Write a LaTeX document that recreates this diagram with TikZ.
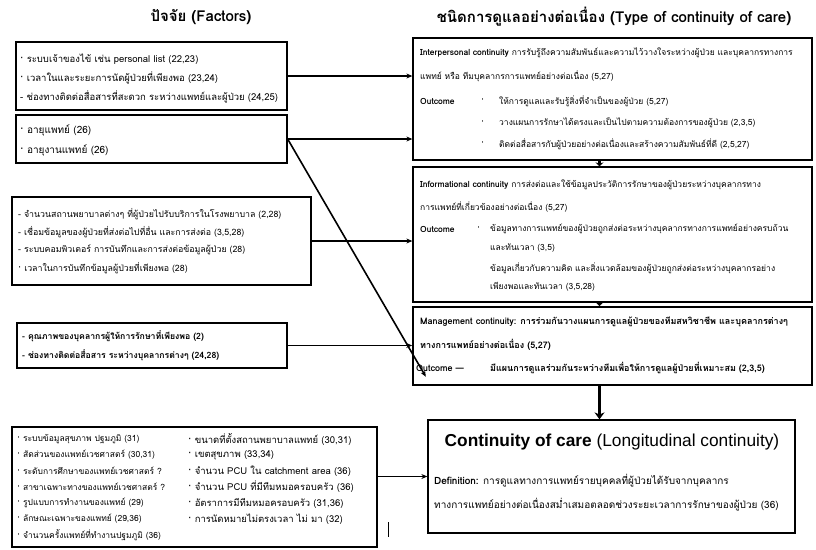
\documentclass[tikz,border=0pt]{standalone}
\usepackage{fontspec}
\setmainfont{Loma}[Script=Thai]
\newfontfamily\arialf{Liberation Sans}
\usetikzlibrary{arrows.meta}
\tikzset{
  box/.style={draw, line width=1.3pt, inner sep=0pt},
  txt/.style={inner sep=0pt, anchor=west},
  rtxt/.style={inner sep=0pt, anchor=west, font=\fontsize{8.5}{10}\selectfont},
  mtxt/.style={inner sep=0pt, anchor=west, font=\fontsize{9}{10}\selectfont\bfseries},
  conn/.style={line width=1.8pt, -{Stealth[length=6pt,width=5pt]}},
  bigconn/.style={line width=3.8pt, -{Stealth[length=7pt,width=10pt]}},
  title/.style={inner sep=0pt, font=\fontsize{15}{17}\selectfont\bfseries}
}
\begin{document}
\begin{tikzpicture}[x=1pt,y=-1pt]
\useasboundingbox[fill=white] (0,0) rectangle (816,549);

% titles
\node[title] (t1) at (201,17) {ปัจจัย (Factors)};
\node[title] (t2) at (614,17) {ชนิดการดูแลอย่างต่อเนื่อง (Type of continuity of care)};

% left boxes
\node[box, minimum width=271, minimum height=68] (f1) at (151.5,76) {};
\node[box, minimum width=271, minimum height=48] (f2) at (151.5,139) {};
\node[box, minimum width=299, minimum height=88] (f3) at (161.5,241) {};
\node[box, minimum width=270, minimum height=45, line width=1.5pt] (f4) at (152,345.5) {};
\node[box, minimum width=365, minimum height=120] (f5) at (194.5,487) {};

% right boxes
\node[box, minimum width=399, minimum height=122] (ip) at (612.5,99) {};
\node[box, minimum width=399, minimum height=135] (ic) at (612.5,234.5) {};
\node[box, minimum width=399, minimum height=78, line width=1.6pt] (mc) at (612.5,346) {};
\node[box, minimum width=367, minimum height=113] (cc) at (611.5,476.5) {};

% box 1
\begin{scope}[every node/.append style={font=\fontsize{9.5}{11}\selectfont}]
\node[txt] (f1a) at (20,59) {· ระบบเจ้าของไข้ เช่น personal list (22,23)};
\node[txt] (f1b) at (20,78) {· เวลาในและระยะการนัดผู้ป่วยที่เพียงพอ (23,24)};
\node[txt] (f1c) at (20,97) {- ช่องทางติดต่อสื่อสารที่สะดวก ระหว่างแพทย์และผู้ป่วย (24,25)};
\end{scope}
% box 2
\begin{scope}[every node/.append style={font=\fontsize{10}{11}\selectfont}]
\node[txt] (f2a) at (20,130) {· อายุแพทย์ (26)};
\node[txt] (f2b) at (20,150) {· อายุงานแพทย์ (26)};
\end{scope}
% box 3
\begin{scope}[every node/.append style={font=\fontsize{8.8}{10}\selectfont}]
\node[txt] (f3a) at (18,214) {- จำนวนสถานพยาบาลต่างๆ ที่ผู้ป่วยไปรับบริการในโรงพยาบาล (2,28)};
\node[txt] (f3b) at (18,232) {- เชื่อมข้อมูลของผู้ป่วยที่ส่งต่อไปที่อื่น และการส่งต่อ (3,5,28)};
\node[txt] (f3c) at (18,250) {- ระบบคอมพิวเตอร์ การบันทึกและการส่งต่อข้อมูลผู้ป่วย (28)};
\node[txt] (f3d) at (18,268) {· เวลาในการบันทึกข้อมูลผู้ป่วยที่เพียงพอ (28)};
\end{scope}
% box 4
\begin{scope}[every node/.append style={font=\fontsize{8.7}{10}\selectfont\bfseries}]
\node[txt] (f4a) at (22,336) {- คุณภาพของบุคลากรผู้ให้การรักษาที่เพียงพอ (2)};
\node[txt] (f4b) at (22,355) {- ช่องทางติดต่อสื่อสาร ระหว่างบุคลากรต่างๆ (24,28)};
\end{scope}
% box 5 left column
\begin{scope}[every node/.append style={font=\fontsize{8.5}{10}\selectfont}]
\node[txt] (f5a) at (17,439) {· ระบบข้อมูลสุขภาพ ปฐมภูมิ (31)};
\node[txt] (f5b) at (17,455) {· สัดส่วนของแพทย์เวชศาสตร์ (30,31)};
\node[txt] (f5c) at (17,471) {· ระดับการศึกษาของแพทย์เวชศาสตร์ ?};
\node[txt] (f5d) at (17,487) {· สาขาเฉพาะทางของแพทย์เวชศาสตร์ ?};
\node[txt] (f5e) at (17,503) {· รูปแบบการทำงานของแพทย์ (29)};
\node[txt] (f5f) at (17,519) {· ลักษณะเฉพาะของแพทย์ (29,36)};
\node[txt] (f5g) at (17,535) {· จำนวนครั้งแพทย์ที่ทำงานปฐมภูมิ (36)};
\end{scope}
% box 5 right column
\begin{scope}[every node/.append style={font=\fontsize{9.5}{11}\selectfont}]
\node[txt] (f5h) at (188,439) {· ขนาดที่ตั้งสถานพยาบาลแพทย์ (30,31)};
\node[txt] (f5i) at (188,455) {· เขตสุขภาพ (33,34)};
\node[txt] (f5j) at (188,471) {· จำนวน PCU ใน catchment area (36)};
\node[txt] (f5k) at (188,487) {· จำนวน PCU ที่มีทีมหมอครอบครัว (36)};
\node[txt] (f5l) at (188,503) {· อัตราการมีทีมหมอครอบครัว (31,36)};
\node[txt] (f5m) at (188,519) {· การนัดหมายไม่ตรงเวลา ไม่ มา (32)};
\end{scope}
\draw[line width=1pt] (388,522) coordinate (bar1) -- (388,537) coordinate (bar2);

% interpersonal
\node[rtxt] (ip1) at (420,53) {\textbf{Interpersonal continuity} การรับรู้ถึงความสัมพันธ์และความไว้วางใจระหว่างผู้ป่วย และบุคลากรทางการ};
\node[rtxt] (ip2) at (420,76) {แพทย์ หรือ ทีมบุคลากรการแพทย์อย่างต่อเนื่อง (5,27)};
\node[rtxt] (ip3) at (420,101) {\textbf{Outcome}};
\node[rtxt] (ip4) at (481,101) {·};
\node[rtxt] (ip5) at (499,101) {ให้การดูแลและรับรู้สิ่งที่จำเป็นของผู้ป่วย (5,27)};
\node[rtxt] (ip6) at (481,123) {·};
\node[rtxt] (ip7) at (499,123) {วางแผนการรักษาได้ตรงและเป็นไปตามความต้องการของผู้ป่วย (2,3,5)};
\node[rtxt] (ip8) at (481,144) {·};
\node[rtxt] (ip9) at (499,144) {ติดต่อสื่อสารกับผู้ป่วยอย่างต่อเนื่องและสร้างความสัมพันธ์ที่ดี (2,5,27)};

% informational
\node[rtxt] (ic1) at (420,185) {\textbf{Informational continuity} การส่งต่อและใช้ข้อมูลประวัติการรักษาของผู้ป่วยระหว่างบุคลากรทาง};
\node[rtxt] (ic2) at (420,207) {การแพทย์ที่เกี่ยวข้องอย่างต่อเนื่อง (5,27)};
\node[rtxt] (ic3) at (420,229) {\textbf{Outcome}};
\node[rtxt] (ic4) at (477,229) {·};
\node[rtxt] (ic5) at (490,229) {ข้อมูลทางการแพทย์ของผู้ป่วยถูกส่งต่อระหว่างบุคลากรทางการแพทย์อย่างครบถ้วน};
\node[rtxt] (ic6) at (490,248) {และทันเวลา (3,5)};
\node[rtxt] (ic7) at (490,268) {ข้อมูลเกี่ยวกับความคิด และสิ่งแวดล้อมของผู้ป่วยถูกส่งต่อระหว่างบุคลากรอย่าง};
\node[rtxt] (ic8) at (490,287) {เพียงพอและทันเวลา (3,5,28)};

% management
\node[mtxt] (mc1) at (420,322) {Management continuity: การร่วมกันวางแผนการดูแลผู้ป่วยของทีมสหวิชาชีพ และบุคลากรต่างๆ};
\node[mtxt] (mc2) at (420,345) {ทางการแพทย์อย่างต่อเนื่อง (5,27)};
\node[mtxt] (mc3) at (416,368) {Outcome —};
\node[mtxt] (mc4) at (490,368) {มีแผนการดูแลร่วมกันระหว่างทีมเพื่อให้การดูแลผู้ป่วยที่เหมาะสม (2,3,5)};

% continuity of care
\node[inner sep=0pt, font=\arialf\fontsize{17.3}{20}\selectfont] (cc1) at (612,442) {\textbf{Continuity of care} (Longitudinal continuity)};
\node[txt, font=\fontsize{10}{11}\selectfont] (cc2) at (434,481) {\textbf{Definition:} การดูแลทางการแพทย์รายบุคคลที่ผู้ป่วยได้รับจากบุคลากร};
\node[txt, font=\fontsize{10}{11}\selectfont] (cc3) at (434,505) {ทางการแพทย์อย่างต่อเนื่องสม่ำเสมอตลอดช่วงระยะเวลาการรักษาของผู้ป่วย (36)};

% connectors
\draw[conn] (f1.east) -- (f1.east -| ip.west);
\draw[conn] (f2.east) -- (f2.east -| ip.west);
\draw[conn] (f3.east) -- (f3.east -| ic.west);
\draw[conn] (f4.east) -- (f4.east -| mc.west);
\draw[conn] (cc.west -| f5.east) -- (cc.west);
\coordinate (diagend) at ([yshift=40]cc.north west);
\draw[conn, line width=1.6pt, shorten >=3pt] (f2.east) -- (diagend);

% vertical arrows
\draw[bigconn, -{Stealth[length=4pt,width=8pt]}] ([xshift=-13]ip.south) -- ([xshift=-13]ic.north);
\draw[bigconn, -{Stealth[length=4pt,width=8pt]}] ([xshift=-13]ic.south) -- ([xshift=-13]mc.north);
\draw[bigconn] ([xshift=-13]mc.south) -- ([xshift=-12]cc.north);
\end{tikzpicture}
\end{document}
